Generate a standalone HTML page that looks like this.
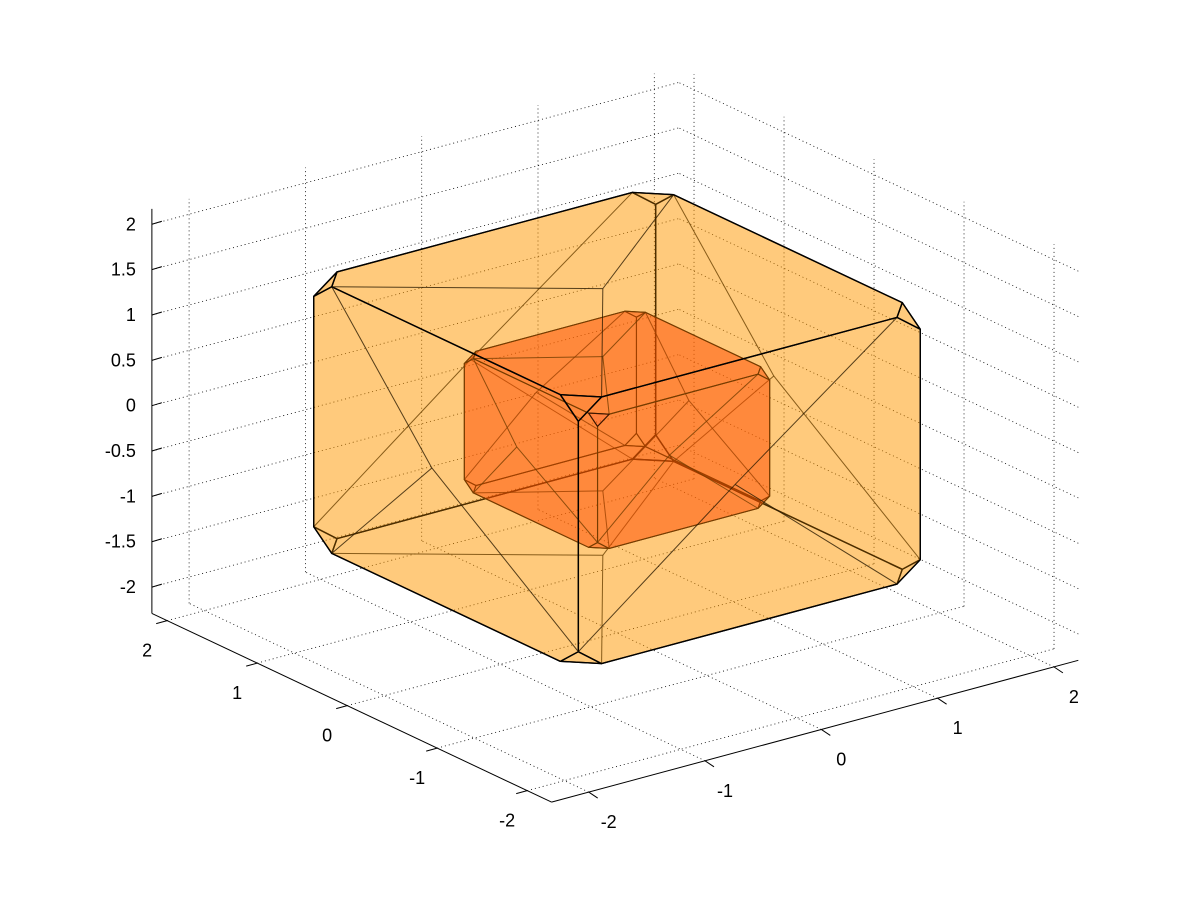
<!DOCTYPE html>
<html><head><meta charset="utf-8"><style>
html,body{margin:0;padding:0;background:#fff;}
svg{display:block;font-family:"Liberation Sans",sans-serif;}
</style></head><body>
<svg id="chart" width="1200" height="900" viewBox="0 0 1200 900">
<rect width="1200" height="900" fill="#fff"/>
<g id="grid"></g><g id="axes"></g><g id="solids"></g>
</svg>
<script>
const uTicks=[-2,-1,0,1,2];
const vTicks=[-2,-1,0,1,2];
const zTicks=[-2,-1.5,-1,-0.5,0,0.5,1,1.5,2];
const zTickLabels=["-2","-1.5","-1","-0.5","0","0.5","1","1.5","2"];
const uRange=[-2.27,2.17];
const vRange=[-2.32,2.21];
const zRange=[-2.29,2.17];
// solids: [half size, chamfer, center z]
const outerSolid=[1.47,0.2,-0.03];
const innerSolid=[0.74,0.1,-0.05];

function P(u,v,z){return [617-90*u+116.3*v, 633-42.5*u-31.3*v-90.7*(z-zRange[0])];}
const NS="http://www.w3.org/2000/svg";
function mk(t,attrs,parent){const e=document.createElementNS(NS,t);for(const k in attrs)e.setAttribute(k,attrs[k]);parent.appendChild(e);return e;}
const grid=document.getElementById('grid'),axes=document.getElementById('axes'),solids=document.getElementById('solids');
function line(a,b,parent,st,name){const p=P(...a),q=P(...b);const l=mk('line',{x1:p[0],y1:p[1],x2:q[0],y2:q[1],stroke:'#000','stroke-width':st.w||1},parent);if(st.dash)l.setAttribute('stroke-dasharray',st.dash);

return l;}
const dot={w:0.8,dash:'1,3'};
const U0=uRange[0],U1=uRange[1],V0=vRange[0],V1=vRange[1],Z0=zRange[0],Z1=zRange[1];
uTicks.forEach(u=>line([u,V0,Z0],[u,V1,Z0],grid,dot,'floor-gridline'));
vTicks.forEach(v=>line([U0,v,Z0],[U1,v,Z0],grid,dot,'floor-gridline'));
vTicks.forEach(v=>line([U1,v,Z0],[U1,v,Z1],grid,dot,'wall-gridline'));
zTicks.forEach(z=>line([U1,V0,z],[U1,V1,z],grid,dot,'wall-gridline'));
uTicks.forEach(u=>line([u,V1,Z0],[u,V1,Z1],grid,dot,'wall-gridline'));
zTicks.forEach(z=>line([U0,V1,z],[U1,V1,z],grid,dot,'wall-gridline'));
line([U1,V0,Z0],[U1,V0,Z1],axes,{w:1},'z-axis-line');
line([U1,V0,Z0],[U0,V0,Z0],axes,{w:1},'u-axis-line');
line([U0,V0,Z0],[U0,V1,Z0],axes,{w:1},'v-axis-line');
function txt(x,y,s,anchor,name){const t=mk('text',{x:x,y:y,'font-size':18,'text-anchor':anchor,fill:'#000'},axes);t.textContent=s;

}
zTicks.forEach((z,i)=>{const p=P(U1,V0,z);mk('line',{x1:p[0],y1:p[1],x2:p[0]+10,y2:p[1]-3,stroke:'#000','stroke-width':1},axes);txt(p[0]-16,p[1]+6,zTickLabels[i],'end','z-tick-label');});
uTicks.forEach(u=>{const p=P(u,V0,Z0);mk('line',{x1:p[0],y1:p[1],x2:p[0]-11,y2:p[1]+3,stroke:'#000','stroke-width':1},axes);txt(p[0]-20,p[1]+36,String(u),'middle','u-tick-label');});
vTicks.forEach(v=>{const p=P(U0,v,Z0);mk('line',{x1:p[0],y1:p[1],x2:p[0]+9,y2:p[1]+6,stroke:'#000','stroke-width':1},axes);txt(p[0]+20,p[1]+36,String(v),'middle','v-tick-label');});

function chamfered(a,c,zc){
  const verts=[];
  for(const sx of[-1,1])for(const sy of[-1,1])for(const sz of[-1,1]){
    verts.push([sx*(a-c),sy*a,sz*a+zc],[sx*a,sy*(a-c),sz*a+zc],[sx*a,sy*a,sz*(a-c)+zc]);
  }
  const faces=[];
  for(let ax=0;ax<3;ax++)for(const s of[-1,1]){
    const vs=verts.filter(p=>Math.abs((ax==2?p[2]-zc:p[ax])-s*a)<1e-6);
    const o=[0,1,2].filter(i=>i!=ax);
    vs.sort((p,q)=>Math.atan2(p[o[1]]-(o[1]==2?zc:0),p[o[0]])-Math.atan2(q[o[1]]-(o[1]==2?zc:0),q[o[0]]));
    faces.push({pts:vs,oct:true});
  }
  for(let i=0;i<8;i++)faces.push({pts:verts.slice(i*3,i*3+3),oct:false});
  return faces;
}
const view=[-0.5,-0.55,0.6];
function depth(f){let d=0;f.pts.forEach(p=>{d+=p[0]*view[0]+p[1]*view[1]+p[2]*view[2];});return d/f.pts.length;}
const all=[];
chamfered(...outerSolid).forEach(f=>{f.kind='outer';all.push(f);});
chamfered(...innerSolid).forEach(f=>{f.kind='inner';all.push(f);});
all.sort((a,b)=>depth(a)-depth(b));
all.forEach(f=>{
  const pts=f.pts.map(p=>P(...p).join(',')).join(' ');
  const outer=f.kind=='outer';
  const pg=mk('polygon',{points:pts,fill:outer?'#ff9900':'#ff2a00','fill-opacity':0.3,stroke:outer?'#000':'#3a1500','stroke-width':outer?1.4:1.1,'stroke-linejoin':'round'},solids);
  
  
  if(f.oct){
    let cx=0,cy=0,cz=0;f.pts.forEach(p=>{cx+=p[0];cy+=p[1];cz+=p[2];});
    const n=f.pts.length;const c=[cx/n+0.08,cy/n-0.06,cz/n+0.05];
    const pc=P(...c);
    [0,2,5].forEach(i=>{const q=P(...f.pts[i]);
      const l=mk('line',{x1:pc[0],y1:pc[1],x2:q[0],y2:q[1],stroke:outer?'#2a1a00':'#3a1500','stroke-width':1,'stroke-opacity':0.8},solids);
      
      });
  }
});
</script>
</body></html>
